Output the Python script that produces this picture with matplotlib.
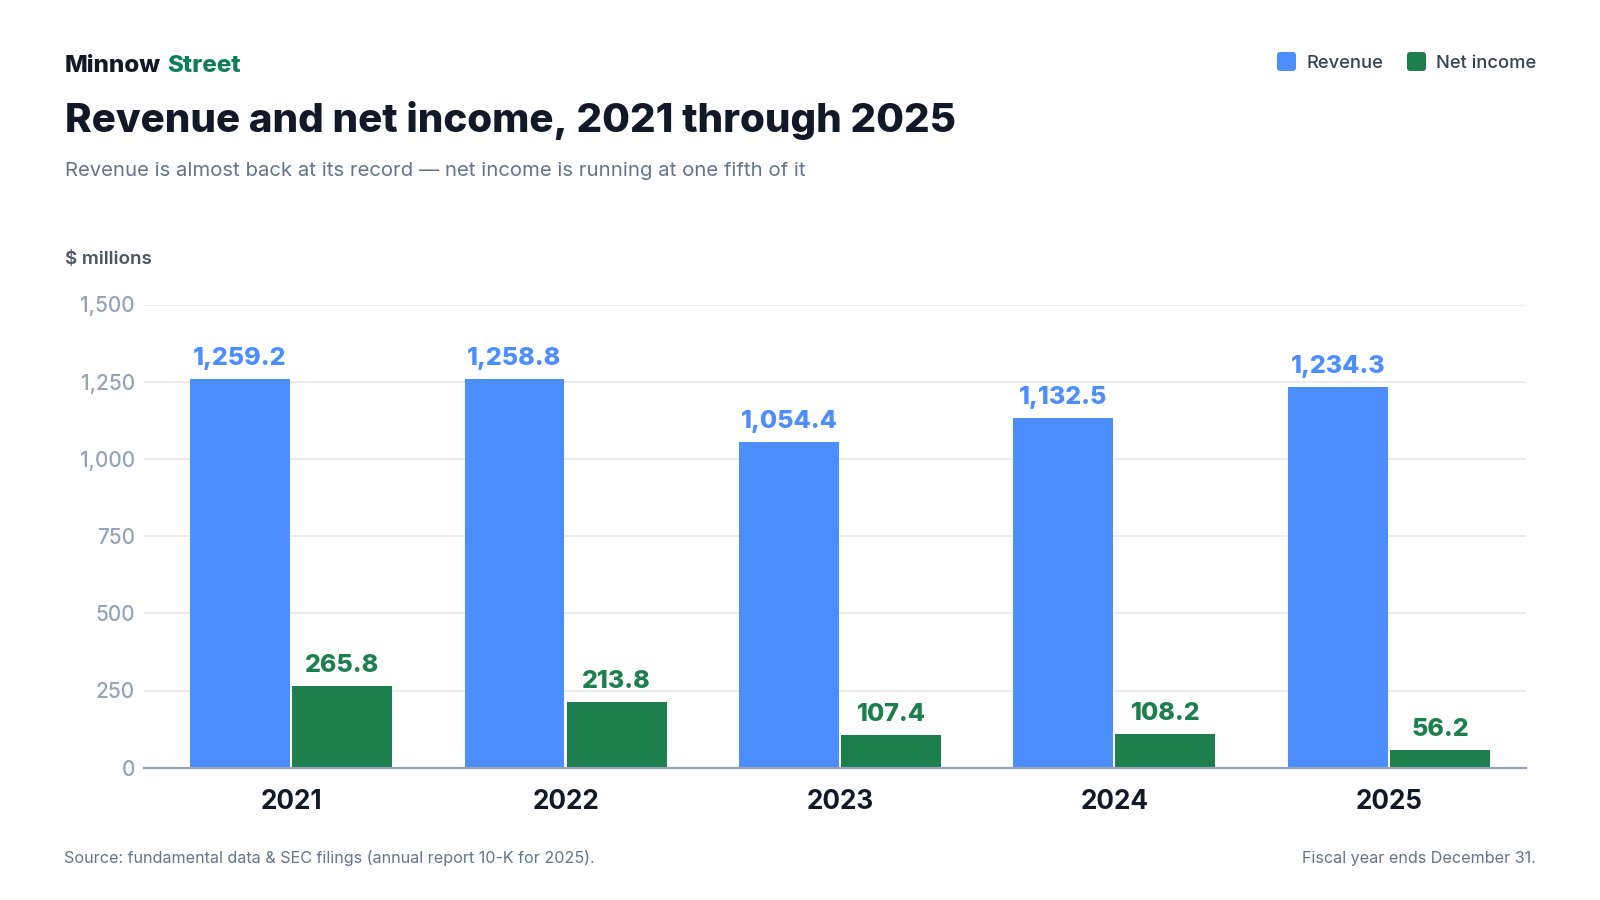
import numpy as np
import matplotlib.pyplot as plt
from matplotlib.patches import FancyBboxPatch
from matplotlib.transforms import IdentityTransform

# --- Dados ---
years = ["2021", "2022", "2023", "2024", "2025"]
revenue = [1259.2, 1258.8, 1054.4, 1132.5, 1234.3]
net_income = [265.8, 213.8, 107.4, 108.2, 56.2]
y_ticks = [0, 250, 500, 750, 1000, 1250, 1500]

BLUE = "#4C8DFF"
GREEN = "#1C7F4D"
BRAND_GREEN = "#0F7D5A"
DARK = "#111827"
SLATE = "#64748B"
TICK = "#94A3B8"

plt.rcParams["font.family"] = ["Inter", "DejaVu Sans"]

W, H = 1600, 900
fig = plt.figure(figsize=(16, 9), dpi=100)
fig.patch.set_facecolor("white")


def fy(y):
    """pixel y (from top) -> figure fraction"""
    return 1 - y / H


ax = fig.add_axes([144 / W, fy(767.7), (1526 - 144) / W, (767.7 - 304.5) / H])

x = np.arange(len(years))
width = 0.364
off = 0.186
ax.bar(x - off, revenue, width, color=BLUE, zorder=2)
ax.bar(x + off, net_income, width, color=GREEN, zorder=2)

for xi, v in zip(x - off, revenue):
    ax.annotate(f"{v:,.1f}", (xi, v), xytext=(0, 10), textcoords="offset points",
                ha="center", va="baseline", fontsize=18, fontweight=800, color=BLUE)
for xi, v in zip(x + off, net_income):
    ax.annotate(f"{v:,.1f}", (xi, v), xytext=(0, 10), textcoords="offset points",
                ha="center", va="baseline", fontsize=18, fontweight=800, color=GREEN)

ax.set_xlim(-0.536, 4.5)
ax.set_ylim(0, 1500)
ax.set_yticks(y_ticks)
ax.set_yticklabels([f"{v:,}" for v in y_ticks], fontsize=15, color=TICK, fontweight="medium")
ax.set_xticks(x)
ax.set_xticklabels(years, fontsize=18.8, fontweight="bold", color=DARK)
ax.tick_params(axis="y", length=0, pad=6.5)
ax.tick_params(axis="x", length=0, pad=15)
ax.grid(axis="y", color="#E5E7EB", lw=1.2, zorder=0)
ax.set_axisbelow(True)
for s in ["left", "right", "top"]:
    ax.spines[s].set_visible(False)
ax.spines["bottom"].set_color(TICK)
ax.spines["bottom"].set_linewidth(1.6)
ax.spines["bottom"].set_zorder(3)

# --- Cabeçalho ---
t1 = fig.text(65 / W, fy(71.7), "Minnow", fontsize=17.4, fontweight=800,
              color=DARK, va="baseline")
fig.canvas.draw()
bb = t1.get_window_extent()
fig.text((bb.x1 + 5.5) / W, fy(71.7), "Street", fontsize=17.4, fontweight=800,
         color=BRAND_GREEN, va="baseline")
fig.text(65 / W, fy(131.7), "Revenue and net income, 2021 through 2025",
         fontsize=29, fontweight=800, color=DARK, va="baseline")
fig.text(65 / W, fy(175.7),
         "Revenue is almost back at its record \u2014 net income is running at one fifth of it",
         fontsize=14.6, color=SLATE, va="baseline")
fig.text(65 / W, fy(264), "$ millions", fontsize=13.5, fontweight="semibold",
         color="#4B5563", va="baseline")

# --- Legenda ---
for (sx, tx, label, col) in [(1277, 1306, "Revenue", BLUE), (1407, 1436, "Net income", GREEN)]:
    sq = FancyBboxPatch((sx, H - 71), 19, 19, boxstyle="round,pad=0,rounding_size=3",
                        transform=IdentityTransform(), facecolor=col, edgecolor="none")
    fig.add_artist(sq)
    fig.text(tx / W, fy(68.3), label, fontsize=13.2, fontweight="medium",
             color="#334155", va="baseline")

# --- Rodapé ---
fig.text(64 / W, fy(863), "Source: fundamental data & SEC filings (annual report 10-K for 2025).",
         fontsize=11.6, color=SLATE, va="baseline")
fig.text(1536 / W, fy(863), "Fiscal year ends December 31.", fontsize=11.6,
         color=SLATE, va="baseline", ha="right")

fig.savefig("out.png", dpi=100)
